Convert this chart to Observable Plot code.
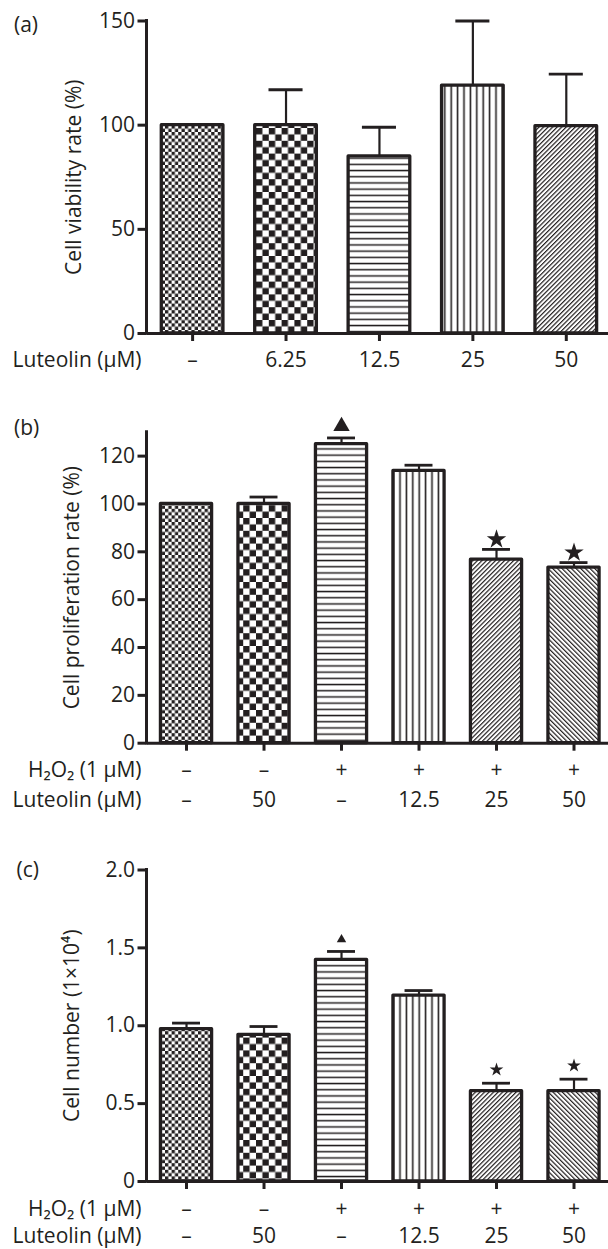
<!DOCTYPE html>
<html>
<head>
<meta charset="utf-8">
<script src="https://cdn.jsdelivr.net/npm/d3@7"></script>
<script src="https://cdn.jsdelivr.net/npm/@observablehq/plot@0.6"></script>
<style>
  html, body { margin: 0; padding: 0; background: #fff; }
  #chart svg.plot { display: block; }
</style>
</head>
<body>
<svg width="0" height="0" style="position:absolute;left:0;top:0" aria-hidden="true">
  <defs>
    <pattern id="pCheckFine" patternUnits="userSpaceOnUse" width="6.6" height="6.6">
      <rect width="6.6" height="6.6" fill="#fff"/>
      <rect width="3.3" height="3.3" fill="#231f20"/>
      <rect x="3.3" y="3.3" width="3.3" height="3.3" fill="#231f20"/>
    </pattern>
    <pattern id="pCheckCoarse" patternUnits="userSpaceOnUse" width="12.8" height="12.8">
      <rect width="12.8" height="12.8" fill="#fff"/>
      <rect width="6.4" height="6.4" fill="#231f20"/>
      <rect x="6.4" y="6.4" width="6.4" height="6.4" fill="#231f20"/>
    </pattern>
    <pattern id="pHoriz" patternUnits="userSpaceOnUse" width="8" height="6.2">
      <rect width="8" height="6.2" fill="#fff"/>
      <rect y="2.4" width="8" height="1.5" fill="#231f20"/>
    </pattern>
    <pattern id="pVert" patternUnits="userSpaceOnUse" width="6.4" height="8">
      <rect width="6.4" height="8" fill="#fff"/>
      <rect x="2.4" width="1.6" height="8" fill="#231f20"/>
    </pattern>
    <pattern id="pDiagUp" patternUnits="userSpaceOnUse" width="3.2" height="10" patternTransform="rotate(45)">
      <rect width="3.2" height="10" fill="#fff"/>
      <rect width="1.2" height="10" fill="#231f20"/>
    </pattern>
    <pattern id="pDiagDown" patternUnits="userSpaceOnUse" width="3.3" height="10" patternTransform="rotate(-45)">
      <rect width="3.3" height="10" fill="#fff"/>
      <rect width="1.2" height="10" fill="#231f20"/>
    </pattern>
  </defs>
</svg>
<div id="chart"></div>
<script>
// ---------------- Data ----------------
// Panel (a): cell viability
const groupsA = ["A1", "A2", "A3", "A4", "A5"];
const luteolinA = ["–", "6.25", "12.5", "25", "50"];
const viability = [100, 100, 85, 119, 99.5];
const viabilityErr = [0, 17, 14, 31, 25];
const yTicksA = [0, 50, 100, 150];

// Panels (b) and (c): shared groups
const groupsBC = ["G1", "G2", "G3", "G4", "G5", "G6"];
const h2o2Labels = ["–", "–", "+", "+", "+", "+"];
const luteolinBC = ["–", "50", "–", "12.5", "25", "50"];

// Panel (b): cell proliferation
const proliferation = [100, 100, 125, 113.8, 76.7, 73.4];
const proliferationErr = [0, 2.9, 2.6, 2.4, 4.3, 2.1];
const marksB = ["", "", "triangle", "", "star", "star"];
const yTicksB = [0, 20, 40, 60, 80, 100, 120];

// Panel (c): cell number (×10^4)
const cellNumber = [0.978, 0.942, 1.423, 1.194, 0.58, 0.58];
const cellNumberErr = [0.039, 0.053, 0.054, 0.032, 0.051, 0.077];
const marksC = ["", "", "triangle", "", "star", "star"];
const yTicksC = [0, 0.5, 1.0, 1.5, 2.0];

// Fill patterns per bar position
const fillsA = ["url(#pCheckFine)", "url(#pCheckCoarse)", "url(#pHoriz)", "url(#pVert)", "url(#pDiagUp)"];
const fillsBC = ["url(#pCheckFine)", "url(#pCheckCoarse)", "url(#pHoriz)", "url(#pVert)", "url(#pDiagUp)", "url(#pDiagDown)"];

// ---------------- Drawing ----------------
const INK = "#231f20";
const FONT = "'Open Sans', 'Noto Sans', 'DejaVu Sans', sans-serif";
const FS = 21;

function yAxisLine() {
  return (index, scales, values, dims) => {
    const line = document.createElementNS("http://www.w3.org/2000/svg", "line");
    const x = dims.marginLeft;
    line.setAttribute("x1", x);
    line.setAttribute("x2", x);
    line.setAttribute("y1", dims.marginTop);
    line.setAttribute("y2", dims.height - dims.marginBottom);
    line.setAttribute("stroke", INK);
    line.setAttribute("stroke-width", 3);
    line.setAttribute("stroke-linecap", "square");
    return line;
  };
}

function makePanel(cfg) {
  const data = cfg.keys.map((k, i) => ({
    key: k,
    value: cfg.values[i],
    err: cfg.errors[i],
    top: cfg.values[i] + cfg.errors[i],
    fill: cfg.fills[i],
    mark: cfg.marks ? cfg.marks[i] : ""
  }));
  const withErr = data.filter(d => d.err > 0);

  const rowMarks = cfg.rows.flatMap(row => [
    Plot.text(data, {x: "key", text: (d, i) => row.values[i], frameAnchor: "bottom", dy: row.dy,
      lineAnchor: "middle", fontSize: FS, fill: INK}),
    Plot.text([row.title], {frameAnchor: "bottom-left", dx: -5.5, dy: row.dy, textAnchor: "end",
      lineAnchor: "middle", fontSize: FS, fill: INK})
  ]);

  const symbolMarks = [];
  if (cfg.marks) {
    symbolMarks.push(
      Plot.dot(data.filter(d => d.mark === "triangle"), {x: "key", y: "top", symbol: "triangle",
        r: cfg.triR, fill: INK, stroke: "none", dy: cfg.triDy}),
      Plot.dot(data.filter(d => d.mark === "star"), {x: "key", y: "top", symbol: "star",
        r: cfg.starR, fill: INK, stroke: "none", dy: cfg.starDy})
    );
  }

  return Plot.plot({
    width: 608,
    height: cfg.height,
    marginLeft: 146.5,
    marginRight: 0,
    marginTop: cfg.marginTop,
    marginBottom: cfg.marginBottom,
    style: {fontFamily: FONT, fontSize: FS + "px", color: INK, background: "#fff"},
    x: {domain: cfg.keys, paddingInner: cfg.padInner, paddingOuter: cfg.padOuter, align: cfg.align, round: false, axis: null},
    y: {domain: cfg.yDomain, axis: null},
    color: {type: "identity"},
    marks: [
      Plot.barY(data, {x: "key", y: "value", fill: "fill", stroke: INK, strokeWidth: 3.3, strokeLinejoin: "round"}),
      Plot.ruleX(withErr, {x: "key", y1: "value", y2: "top", stroke: INK, strokeWidth: 2.2}),
      Plot.tickY(withErr, {x: "key", y: "top", stroke: INK, strokeWidth: 2.8, insetLeft: cfg.capInset, insetRight: cfg.capInset}),
      ...symbolMarks,
      Plot.ruleY([0], {stroke: INK, strokeWidth: 3}),
      yAxisLine(),
      Plot.axisY({ticks: cfg.yTicks, tickSize: 9, tickPadding: 3, strokeWidth: 3, stroke: INK, fill: INK,
        fontSize: FS, tickFormat: cfg.yFormat, label: null}),
      Plot.axisX({tickSize: 8, strokeWidth: 3, stroke: INK, tickFormat: () => "", label: null}),
      ...rowMarks,
      Plot.text([cfg.yTitle], {frameAnchor: "left", rotate: -90, dx: cfg.titleDx, textAnchor: "middle",
        lineAnchor: "middle", fontSize: FS, fill: INK}),
      Plot.text([cfg.tag], {frameAnchor: "top-left", dx: cfg.tagDx, dy: cfg.tagDy, textAnchor: "start",
        lineAnchor: "middle", fontSize: FS, fill: INK})
    ]
  });
}

const chart = document.getElementById("chart");

chart.appendChild(makePanel({
  keys: groupsA, values: viability, errors: viabilityErr, fills: fillsA,
  yDomain: [0, 150], yTicks: yTicksA, yFormat: d => String(d),
  height: 390, marginTop: 20.5, marginBottom: 57,
  padInner: 0.34, padOuter: 0.14, align: 0.565, capInset: 13.8,
  rows: [{title: "Luteolin (μM)", values: luteolinA, dy: 27}],
  yTitle: "Cell viability rate (%)", titleDx: -73,
  tag: "(a)", tagDx: -133, tagDy: 4.5
}));

chart.appendChild(makePanel({
  keys: groupsBC, values: proliferation, errors: proliferationErr, fills: fillsBC, marks: marksB,
  yDomain: [0, 130], yTicks: yTicksB, yFormat: d => String(d),
  height: 430, marginTop: 41.7, marginBottom: 77.3,
  padInner: 0.34, padOuter: 0.1475, align: 0.61, capInset: 11.6,
  triR: 6.1, triDy: -11.6, starR: 6.1, starDy: -10,
  rows: [{title: "H₂O₂ (1 μM)", values: h2o2Labels, dy: 27.3}, {title: "Luteolin (μM)", values: luteolinBC, dy: 57.3}],
  yTitle: "Cell proliferation rate (%)", titleDx: -74.8,
  tag: "(b)", tagDx: -133, tagDy: -3.5
}));

chart.appendChild(makePanel({
  keys: groupsBC, values: cellNumber, errors: cellNumberErr, fills: fillsBC, marks: marksC,
  yDomain: [0, 2], yTicks: yTicksC, yFormat: d => d === 0 ? "0" : d.toFixed(1),
  height: 429, marginTop: 49.5, marginBottom: 68,
  padInner: 0.34, padOuter: 0.1475, align: 0.61, capInset: 11.6,
  triR: 3.5, triDy: -11.9, starR: 4.3, starDy: -13.5,
  rows: [{title: "H₂O₂ (1 μM)", values: h2o2Labels, dy: 27.3}, {title: "Luteolin (μM)", values: luteolinBC, dy: 54.6}],
  yTitle: "Cell number (1×10⁴)", titleDx: -74.5,
  tag: "(c)", tagDx: -130.5, tagDy: -0.2
}));
</script>
</body>
</html>
